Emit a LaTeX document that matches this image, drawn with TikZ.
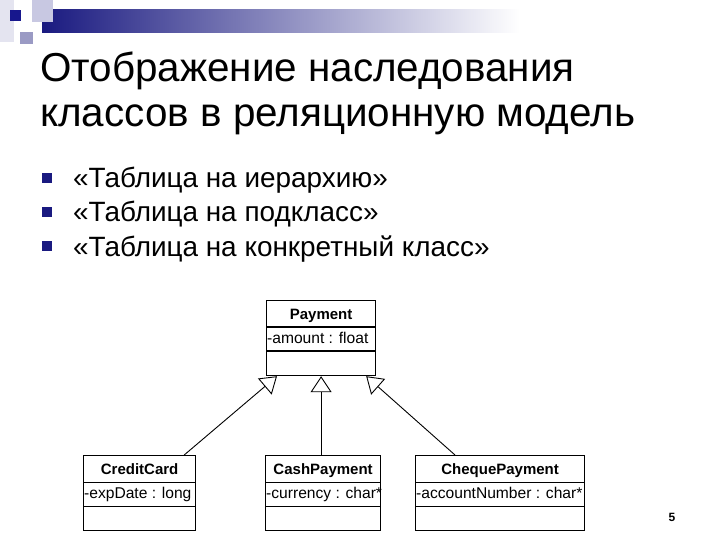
\documentclass[tikz,border=0pt]{standalone}
\usepackage{fontspec}
\setmainfont{Liberation Sans}
\usetikzlibrary{arrows.meta}
\definecolor{navy}{HTML}{1A1A80}
\definecolor{paleA}{HTML}{C8C8E2}
\definecolor{paleB}{HTML}{9A9AC4}
\definecolor{paleC}{HTML}{E4E4F0}
\tikzset{
  titletext/.style={anchor=base west, inner sep=0pt, font=\fontsize{40.4}{45}\selectfont},
  bullettext/.style={anchor=base west, inner sep=0pt, font=\fontsize{27.9}{32}\selectfont},
  bulletsq/.style={fill=navy, draw=none, minimum size=10pt, inner sep=0pt},
  cls/.style={draw, line width=1.2pt, fill=white, inner sep=0pt, anchor=north west, minimum height=75pt},
  ctitle/.style={inner sep=0pt, anchor=base, font=\fontsize{15}{17}\selectfont\bfseries},
  cattr/.style={inner sep=0pt, anchor=base west, font=\fontsize{15.6}{17}\selectfont},
  cline/.style={line width=1.2pt},
  inh/.style={line width=0.9pt, -{Triangle[open, length=16pt, width=21pt, fill=white]}},
}
\begin{document}
\begin{tikzpicture}[x=1pt, y=-1pt]
\useasboundingbox (0,0) rectangle (720,540);
\fill[white] (0,0) rectangle (720,540);
% header decoration
\fill[paleC] (0,0) rectangle (14,42);
\shade[left color=navy, right color=white] (42,10) rectangle (520,33);
\fill[paleA] (32,0) rectangle (53,22);
\fill[paleB] (20,32) rectangle (33,44);
\fill[navy!90!blue] (10,10) rectangle (21,21);
% title
\node[titletext] (t1) at (40,82) {Отображение наследования};
\node[titletext] (t2) at (40,127) {классов в реляционную модель};
% bullets
\node[bulletsq] (b1) at (47,178) {};
\node[bulletsq] (b2) at (47,212) {};
\node[bulletsq] (b3) at (47,246) {};
\node[bullettext] (l1) at (73,188) {«Таблица на иерархию»};
\node[bullettext] (l2) at (73,222) {«Таблица на подкласс»};
\node[bullettext] (l3) at (73,256) {«Таблица на конкретный класс»};
% Payment
\node[cls, minimum width=109pt] (pay) at (266,300) {};
\draw[cline] ([yshift=-27pt]pay.north west) -- ([yshift=-27pt]pay.north east);
\draw[cline] ([yshift=-51pt]pay.north west) -- ([yshift=-51pt]pay.north east);
\node[ctitle] (payT) at ([yshift=-19pt]pay.north) {Payment};
\node[cattr] (payA) at ([xshift=1pt, yshift=-43pt]pay.north west) {-amount : float};
% CreditCard
\node[cls, minimum width=112pt] (cc) at (83,455) {};
\draw[cline] ([yshift=-27.5pt]cc.north west) -- ([yshift=-27.5pt]cc.north east);
\draw[cline] ([yshift=-51.5pt]cc.north west) -- ([yshift=-51.5pt]cc.north east);
\node[ctitle] (ccT) at ([yshift=-19pt]cc.north) {CreditCard};
\node[cattr] (ccA) at ([xshift=1pt, yshift=-43.5pt]cc.north west) {-expDate : long};
% CashPayment
\node[cls, minimum width=115pt] (cash) at (265,455) {};
\draw[cline] ([yshift=-27.5pt]cash.north west) -- ([yshift=-27.5pt]cash.north east);
\draw[cline] ([yshift=-51.5pt]cash.north west) -- ([yshift=-51.5pt]cash.north east);
\node[ctitle] (cashT) at ([yshift=-19pt]cash.north) {CashPayment};
\node[cattr] (cashA) at ([xshift=1pt, yshift=-43.5pt]cash.north west) {-currency : char*};
% ChequePayment
\node[cls, minimum width=169pt] (chq) at (415,455) {};
\draw[cline] ([yshift=-27.5pt]chq.north west) -- ([yshift=-27.5pt]chq.north east);
\draw[cline] ([yshift=-51.5pt]chq.north west) -- ([yshift=-51.5pt]chq.north east);
\node[ctitle] (chqT) at ([yshift=-19pt]chq.north) {ChequePayment};
\node[cattr] (chqA) at ([xshift=1pt, yshift=-43.5pt]chq.north west) {-accountNumber : char*};
% inheritance
\draw[inh] ([xshift=-12pt]cc.north east) -- ([xshift=11pt]pay.south west);
\draw[inh] (pay.south |- cash.north) -- (pay.south);
\draw[inh] ([xshift=40pt]chq.north west) -- ([xshift=-10pt]pay.south east);
% page number
\node[inner sep=0pt, font=\fontsize{12}{14}\selectfont\bfseries] (pg) at (672,517) {5};
\end{tikzpicture}
\end{document}
